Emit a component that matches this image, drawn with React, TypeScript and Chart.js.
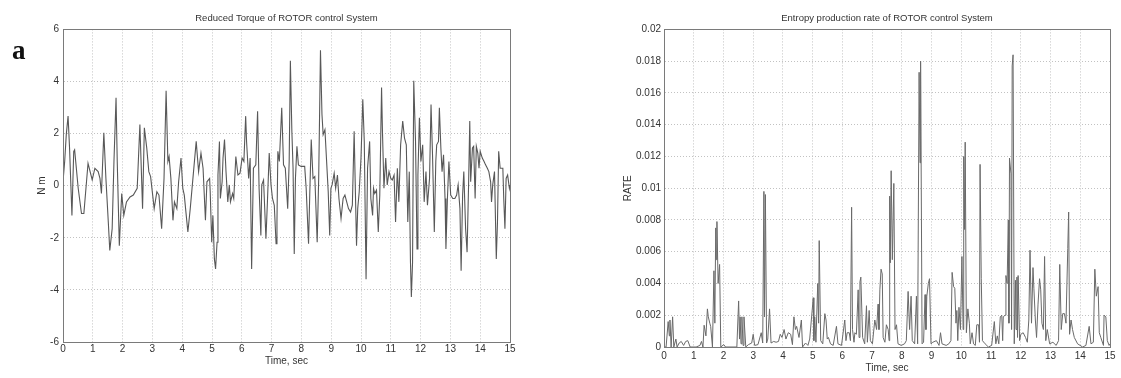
import React, { useEffect, useRef } from 'react';
import { Chart, registerables } from 'chart.js';

Chart.register(...registerables);

// ---------- data ----------
const torqueTitle = 'Reduced Torque of ROTOR control System';
const rateTitle = 'Entropy production rate of ROTOR control System';
const timeLabel = 'Time, sec';
const torqueAxisLabel = 'N m';
const rateAxisLabel = 'RATE';
const panelLetter = 'a';

const timeTickLabels = ['0', '1', '2', '3', '4', '5', '6', '7', '8', '9', '10', '11', '12', '13', '14', '15'];
const torqueTickLabels = ['-6', '-4', '-2', '0', '2', '4', '6'];
const rateTickLabels = ['0', '0.002', '0.004', '0.006', '0.008', '0.01', '0.012', '0.014', '0.016', '0.018', '0.02'];

// [time (s), torque (N m)]
const torqueSeries: [number, number][] = [
  [0, 0.15], [0.056, 0.93], [0.11, 1.96], [0.17, 2.67], [0.22, 1.45], [0.3, -1.14], [0.36, 1.32], [0.39, 1.38],
  [0.51, -0.1], [0.62, -1.07], [0.7, -1.07], [0.84, 0.86], [0.98, 0.22], [1.07, 0.67], [1.18, 0.54], [1.24, 0.28],
  [1.29, -0.3], [1.37, 2.03], [1.44, 0.28], [1.52, -1.39], [1.57, -2.49], [1.65, -1.65], [1.71, 0.93], [1.78, 3.38],
  [1.82, 0.93], [1.89, -2.3], [1.97, -0.3], [2.04, -1.14], [2.13, -0.62], [2.25, -0.43], [2.36, -0.36], [2.49, -0.1],
  [2.58, 2.35], [2.67, -0.88], [2.73, 2.22], [2.81, 1.45], [2.88, 0.54], [2.94, 0.35], [3.06, -0.88], [3.15, -0.23],
  [3.22, -0.36], [3.31, -1.65], [3.39, 0.28], [3.46, 3.64], [3.52, 0.93], [3.56, 1.12], [3.62, 0.28], [3.69, -1.33],
  [3.74, -0.62], [3.82, -0.88], [3.88, 0.15], [3.96, 1.06], [4.02, -0.1], [4.07, -0.36], [4.13, -1.07], [4.19, -1.78],
  [4.27, -0.88], [4.36, 0.28], [4.47, 1.7], [4.55, 0.54], [4.63, 1.25], [4.7, 0.67], [4.78, -1.33], [4.83, 0.15],
  [4.92, 0.28], [4.94, -0.23], [4.99, -2.17], [5.03, -1.14], [5.08, -2.81], [5.12, -3.2], [5.17, -2.17], [5.2, 0.41],
  [5.25, 1.7], [5.28, -0.49], [5.34, 0.15], [5.37, 1.06], [5.42, 1.77], [5.47, 0.54], [5.53, -0.62], [5.58, 0.03],
  [5.62, -0.62], [5.69, -0.3], [5.73, -0.49], [5.8, 1.12], [5.87, 0.41], [5.94, 0.48], [6.01, 1.06], [6.07, 0.93],
  [6.13, 2.67], [6.16, 1.7], [6.23, 0.28], [6.28, 1.06], [6.33, -3.2], [6.39, 0.67], [6.47, 0.8], [6.53, 2.86],
  [6.58, -0.1], [6.64, -1.91], [6.67, 0.03], [6.73, 0.22], [6.81, -2.04], [6.86, -0.62], [6.92, 1.25], [6.98, 0.03],
  [7.03, -0.49], [7.09, -0.75], [7.15, -2.23], [7.18, -1.39], [7.21, 1.32], [7.26, 0.93], [7.34, 2.99], [7.4, 0.8],
  [7.46, 0.67], [7.5, -0.1], [7.54, -0.88], [7.59, 0.93], [7.63, 4.8], [7.68, 2.09], [7.72, 0.67], [7.76, -2.62],
  [7.8, 0.28], [7.85, 1.51], [7.9, 0.8], [7.99, 0.74], [8.11, 0.74], [8.16, -0.1], [8.24, -2.23], [8.28, -0.36],
  [8.33, 1.77], [8.39, 0.28], [8.45, 0.35], [8.53, -2.17], [8.58, 0.28], [8.62, 3.51], [8.64, 5.2], [8.69, 2.74],
  [8.73, 1.96], [8.79, 2.15], [8.84, 1.06], [8.9, -0.23], [8.95, -1.91], [8.99, -0.1], [9.03, 0.03], [9.1, 0.48],
  [9.15, -0.1], [9.21, 0.41], [9.26, -0.49], [9.33, -1.26], [9.4, -0.49], [9.46, -0.36], [9.52, -0.62], [9.58, -0.88],
  [9.65, -1.01], [9.71, -0.75], [9.77, 2.09], [9.8, 0.41], [9.85, -2.3], [9.89, -0.88], [9.94, -0.23], [10.0, 1.06],
  [10.06, 3.32], [10.11, 1.7], [10.17, -3.59], [10.22, 0.67], [10.29, 1.7], [10.33, -0.49], [10.39, -1.14], [10.42, -0.1],
  [10.46, -0.3], [10.52, -0.17], [10.58, -1.78], [10.63, -0.36], [10.66, 1.7], [10.69, 3.77], [10.72, 2.09], [10.77, -0.1],
  [10.83, 1.06], [10.88, 0.03], [10.94, 0.54], [11.0, 0.28], [11.05, 0.22], [11.11, 0.41], [11.16, -1.39], [11.22, 0.67],
  [11.27, -0.62], [11.33, 1.57], [11.4, 2.48], [11.46, 1.83], [11.52, 1.57], [11.57, -1.39], [11.62, 0.54], [11.66, -2.94],
  [11.69, -4.27], [11.73, -2.94], [11.77, 4.03], [11.83, 1.7], [11.88, -2.43], [11.91, 0.41], [11.96, 2.61], [12.01, 0.93],
  [12.07, 1.57], [12.12, -0.62], [12.18, 0.54], [12.23, -0.75], [12.3, 0.28], [12.35, 3.12], [12.4, 1.19], [12.46, -1.78],
  [12.51, 0.93], [12.54, 1.57], [12.6, 1.7], [12.63, 2.99], [12.68, 1.45], [12.72, 0.54], [12.77, 1.19], [12.82, -0.49],
  [12.85, -2.43], [12.9, -0.49], [12.95, 0.93], [13.01, -0.36], [13.08, -0.49], [13.15, -0.49], [13.21, -0.36], [13.26, 0.03],
  [13.32, -0.88], [13.36, -3.26], [13.41, -0.36], [13.45, 0.54], [13.51, -1.65], [13.56, -2.55], [13.61, 0.03], [13.65, 2.48],
  [13.68, 0.15], [13.74, 1.45], [13.78, 1.51], [13.83, -0.49], [13.87, 1.51], [13.92, 1.25], [13.96, 0.67], [14.0, 1.32],
  [14.07, 1.06], [14.13, 0.93], [14.18, 0.8], [14.24, 0.67], [14.29, 0.54], [14.35, 0.15], [14.38, -0.62], [14.42, 0.03],
  [14.48, 0.54], [14.54, -2.81], [14.58, -1.39], [14.62, 1.32], [14.67, 0.67], [14.76, 0.67], [14.79, -0.49], [14.83, -1.65],
  [14.87, 0.28], [14.92, 0.41], [14.98, -0.1], [15.0, 0.03],
];

// [time (s), entropy production rate]
const rateSeries: [number, number][] = [
  [0, 0], [0.07, 0], [0.14, 0.0016], [0.18, 0.0007], [0.2, 0.0017], [0.24, 0], [0.29, 0.0019], [0.33, 0],
  [0.4, 0.0005], [0.44, 0], [0.51, 0.00025], [0.58, 0.00035], [0.66, 0.0001], [0.73, 0.00035], [0.8, 0.0004], [0.88, 0],
  [1.08, 0], [1.21, 0.0001], [1.26, 0.00035], [1.31, 0], [1.35, 0.00137], [1.41, 0.0007], [1.46, 0.0024], [1.49, 0.0019],
  [1.54, 0.0015], [1.57, 0.0013], [1.63, 0], [1.68, 0.0048], [1.71, 0.0015], [1.74, 0.0075], [1.76, 0.0055], [1.78, 0.0079],
  [1.82, 0.004], [1.87, 0.0052], [1.91, 0], [2.01, 0.00015], [2.07, 0], [2.45, 0], [2.51, 0.0029], [2.54, 0.0005],
  [2.56, 0.0019], [2.59, 0.0002], [2.62, 0.0019], [2.66, 0.0001], [2.69, 0.0019], [2.75, 0], [2.84, 0.00015], [2.95, 0.00025],
  [3.0, 0.0008], [3.05, 0.0001], [3.16, 0.00015], [3.27, 0.0009], [3.32, 0.00025], [3.36, 0.0098], [3.38, 0.0019], [3.41, 0.0096],
  [3.45, 0.00025], [3.49, 0.0005], [3.55, 0.0024], [3.6, 0.00025], [3.69, 0.00035], [3.77, 0.0003], [3.85, 0.00035], [3.91, 0.0008],
  [3.97, 0.0006], [4.04, 0.0011], [4.1, 0.0005], [4.18, 0.0009], [4.26, 0.0008], [4.32, 0.00015], [4.37, 0.0019], [4.42, 0.0011],
  [4.46, 0.0013], [4.54, 0.0006], [4.62, 0.0017], [4.66, 0], [4.76, 0.00025], [4.84, 0.0001], [4.9, 0.0005], [5.02, 0.0031],
  [5.04, 0.0004], [5.07, 0.0019], [5.11, 0.0003], [5.17, 0.004], [5.2, 0.0015], [5.22, 0.0067], [5.27, 0.0004], [5.34, 0.0002],
  [5.41, 0.0021], [5.45, 0.0017], [5.49, 0.0005], [5.53, 0.0006], [5.6, 0.0002], [5.69, 0.0001], [5.8, 0.0013], [5.85, 0.0002],
  [5.97, 0.0001], [6.08, 0.0017], [6.12, 0.0004], [6.16, 0.0009], [6.23, 0.0009], [6.27, 0.0004], [6.31, 0.0088], [6.34, 0.0011],
  [6.39, 0.0003], [6.42, 0.0009], [6.47, 0.0008], [6.53, 0.0036], [6.56, 0.0006], [6.59, 0.0041], [6.62, 0.0044], [6.68, 0.0006],
  [6.75, 0.0002], [6.81, 0.0026], [6.84, 0.0003], [6.9, 0.0023], [6.94, 0.0004], [7.01, 0.0002], [7.09, 0.0017], [7.15, 0.0011],
  [7.2, 0.0027], [7.23, 0.0011], [7.26, 0.0036], [7.3, 0.0049], [7.34, 0.0046], [7.37, 0.0006], [7.43, 0.0003], [7.48, 0.0014],
  [7.54, 0.0011], [7.57, 0.0004], [7.59, 0.0095], [7.61, 0.0053], [7.64, 0.0111], [7.68, 0.0055], [7.73, 0.0103], [7.77, 0.0011],
  [7.82, 0.0014], [7.87, 0.0002], [7.98, 0.0001], [8.09, 0.0002], [8.15, 0.0004], [8.21, 0.0035], [8.26, 0.0011], [8.31, 0.0032],
  [8.35, 0.0004], [8.43, 0.0002], [8.49, 0.0032], [8.53, 0.0002], [8.58, 0.0173], [8.61, 0.0116], [8.63, 0.018], [8.68, 0.0002],
  [8.73, 0.0003], [8.78, 0.0033], [8.81, 0.0011], [8.84, 0.0032], [8.89, 0.004], [8.93, 0.0043], [8.98, 0.0002], [9.04, 0.0003],
  [9.16, 0.0004], [9.25, 0.0001], [9.3, 0.0009], [9.35, 0.0002], [9.49, 0.0001], [9.58, 0.0002], [9.65, 0.0004], [9.69, 0.0047],
  [9.74, 0.0038], [9.78, 0.0037], [9.82, 0.0015], [9.85, 0.0023], [9.88, 0.0004], [9.92, 0.0025], [9.97, 0.0011], [10.02, 0.0057],
  [10.06, 0.0011], [10.08, 0.012], [10.11, 0.0074], [10.13, 0.0129], [10.17, 0.0009], [10.22, 0.0024], [10.27, 0.0015], [10.3, 0.0002],
  [10.36, 0.0009], [10.41, 0.0002], [10.47, 0.0001], [10.52, 0.0014], [10.58, 0.0014], [10.61, 0.0003], [10.63, 0.0115], [10.67, 0.0043],
  [10.71, 0.0004], [10.8, 0.0002], [10.91, 0], [11.02, 0.0001], [11.11, 0.0016], [11.16, 0.0002], [11.21, 0.0007], [11.26, 0.0002],
  [11.31, 0.0019], [11.36, 0.002], [11.39, 0.0004], [11.41, 0.0019], [11.47, 0.002], [11.5, 0.0045], [11.54, 0.004], [11.58, 0.008],
  [11.6, 0.0015], [11.62, 0.0119], [11.67, 0.0109], [11.69, 0.0011], [11.71, 0.0177], [11.74, 0.0184], [11.78, 0.0002], [11.82, 0.0042],
  [11.84, 0.0011], [11.87, 0.0044], [11.89, 0.0006], [11.91, 0.0045], [11.96, 0.0004], [12.0, 0.0008], [12.08, 0.0009], [12.16, 0.0006],
  [12.22, 0.0003], [12.27, 0.0017], [12.31, 0.0061], [12.36, 0.0015], [12.41, 0.005], [12.44, 0.0037], [12.49, 0.0017], [12.53, 0.0006],
  [12.58, 0.0027], [12.63, 0.0043], [12.67, 0.0036], [12.71, 0.0015], [12.76, 0.0011], [12.8, 0.0057], [12.84, 0.0004], [12.89, 0.0011],
  [12.97, 0.0002], [13.08, 0.0003], [13.19, 0.0001], [13.27, 0.0004], [13.31, 0.0052], [13.36, 0.0011], [13.41, 0.0021], [13.47, 0.0021],
  [13.52, 0.0015], [13.58, 0.0062], [13.61, 0.0085], [13.64, 0.0008], [13.69, 0.0017], [13.74, 0.0011], [13.8, 0.0006], [13.91, 0.0002],
  [14.08, 0], [14.19, 0.0001], [14.3, 0.0013], [14.36, 0.0002], [14.44, 0.0003], [14.49, 0.0049], [14.54, 0.0032], [14.6, 0.0038],
  [14.64, 0.0009], [14.69, 0.0006], [14.78, 0.0001], [14.8, 0.002], [14.86, 0.0019], [14.91, 0.0004], [14.97, 0.0001], [15.0, 0.0002],
];

// ---------- styling ----------
const FONT = "'Liberation Sans', Arial, Helvetica, sans-serif";
const TEXT = '#333333';
const GRID = '#c2c2c2';
const FRAME = '#7a7a7a';

Chart.defaults.font.family = FONT;
Chart.defaults.color = TEXT;

const framePlugin = {
  id: 'matlabFrame',
  afterDatasetsDraw(chart: any) {
    const { ctx, chartArea } = chart;
    const { left, top, right, bottom } = chartArea;
    ctx.save();
    ctx.strokeStyle = FRAME;
    ctx.lineWidth = 1;
    ctx.strokeRect(Math.round(left) + 0.5, Math.round(top) + 0.5, Math.round(right - left), Math.round(bottom - top));
    ctx.restore();
  },
};

const letterPlugin = {
  id: 'panelLetter',
  afterDraw(chart: any, _args: any, opts: any) {
    if (!opts || !opts.text) return;
    const { ctx } = chart;
    ctx.save();
    ctx.fillStyle = '#111';
    ctx.font = "bold 27px 'Liberation Serif', 'Times New Roman', serif";
    ctx.textAlign = 'left';
    ctx.textBaseline = 'alphabetic';
    ctx.fillText(opts.text, 12, 59);
    ctx.restore();
  },
};

function makeConfig(p: {
  series: [number, number][];
  title: string;
  yTitle: string;
  yMin: number;
  yMax: number;
  yStep: number;
  yLabel: (v: number) => string;
  yWidth: number;
  yTitlePad: number;
  yTickPad: number;
  xHeight: number;
  xTickPad: number;
  xTitlePad: number;
  padRight: number;
  color: string;
  lineWidth: number;
  letter?: string;
}): any {
  return {
    type: 'line',
    data: {
      datasets: [
        {
          data: p.series.map(([x, y]) => ({ x, y })),
          borderColor: p.color,
          borderWidth: p.lineWidth,
          pointRadius: 0,
          tension: 0,
          fill: false,
        },
      ],
    },
    options: {
      animation: false,
      responsive: false,
      devicePixelRatio: 1,
      parsing: false,
      layout: { padding: { left: 0, top: 0, right: p.padRight, bottom: 0 } },
      plugins: {
        legend: { display: false },
        tooltip: { enabled: false },
        title: {
          display: true,
          text: p.title,
          fullSize: false,
          color: TEXT,
          font: { size: 9.5, weight: 'normal', family: FONT },
          padding: { top: 13, bottom: 5 },
        },
        panelLetter: { text: p.letter || '' },
      },
      scales: {
        x: {
          type: 'linear',
          min: 0,
          max: 15,
          ticks: {
            stepSize: 1,
            autoSkip: false,
            maxRotation: 0,
            padding: p.xTickPad,
            color: TEXT,
            font: { size: 10, family: FONT },
            callback: (v: number) => timeTickLabels[Math.round(v)] ?? '',
          },
          grid: { color: GRID, lineWidth: 1, drawTicks: false },
          border: { display: true, color: FRAME, dash: [1, 2] },
          title: {
            display: true,
            text: timeLabel,
            color: TEXT,
            font: { size: 10, family: FONT },
            padding: { top: 0, bottom: p.xTitlePad },
          },
          afterFit: (s: any) => {
            s.height = p.xHeight;
          },
        },
        y: {
          type: 'linear',
          min: p.yMin,
          max: p.yMax,
          ticks: {
            stepSize: p.yStep,
            autoSkip: false,
            padding: p.yTickPad,
            color: TEXT,
            font: { size: 10, family: FONT },
            callback: (v: number) => p.yLabel(v),
          },
          grid: { color: GRID, lineWidth: 1, drawTicks: false },
          border: { display: true, color: FRAME, dash: [1, 2] },
          title: {
            display: true,
            text: p.yTitle,
            color: TEXT,
            font: { size: 10, family: FONT },
            padding: { top: p.yTitlePad, bottom: 0 },
          },
          afterFit: (s: any) => {
            s.width = p.yWidth;
          },
        },
      },
    },
    plugins: [framePlugin, letterPlugin],
  };
}

export default function App() {
  const leftRef = useRef<HTMLCanvasElement | null>(null);
  const rightRef = useRef<HTMLCanvasElement | null>(null);

  useEffect(() => {
    if (!leftRef.current || !rightRef.current) return;
    const left = new Chart(
      leftRef.current,
      makeConfig({
        series: torqueSeries,
        title: torqueTitle,
        yTitle: torqueAxisLabel,
        yMin: -6,
        yMax: 6,
        yStep: 2,
        yLabel: (v) => torqueTickLabels[Math.round((v + 6) / 2)] ?? '',
        yWidth: 63,
        yTitlePad: 36,
        yTickPad: 4,
        xHeight: 36,
        xTickPad: 1,
        xTitlePad: 11,
        padRight: 20,
        color: '#585858',
        lineWidth: 1.1,
        letter: panelLetter,
      })
    );
    const right = new Chart(
      rightRef.current,
      makeConfig({
        series: rateSeries,
        title: rateTitle,
        yTitle: rateAxisLabel,
        yMin: 0,
        yMax: 0.02,
        yStep: 0.002,
        yLabel: (v) => rateTickLabels[Math.round(v / 0.002)] ?? '',
        yWidth: 74,
        yTitlePad: 32,
        yTickPad: 3,
        xHeight: 31,
        xTickPad: 3,
        xTitlePad: 4,
        padRight: 11,
        color: '#6a6a6a',
        lineWidth: 1,
      })
    );
    return () => {
      left.destroy();
      right.destroy();
    };
  }, []);

  return (
    <div style={{ position: 'fixed', left: 0, top: 0, width: 1121, height: 378, background: '#ffffff', overflow: 'hidden' }}>
      <div style={{ position: 'absolute', left: 0, top: 0, width: 530, height: 378 }}>
        <canvas ref={leftRef} width={530} height={378} style={{ display: 'block', width: 530, height: 378 }} />
      </div>
      <div style={{ position: 'absolute', left: 590, top: 0, width: 531, height: 378 }}>
        <canvas ref={rightRef} width={531} height={378} style={{ display: 'block', width: 531, height: 378 }} />
      </div>
    </div>
  );
}
